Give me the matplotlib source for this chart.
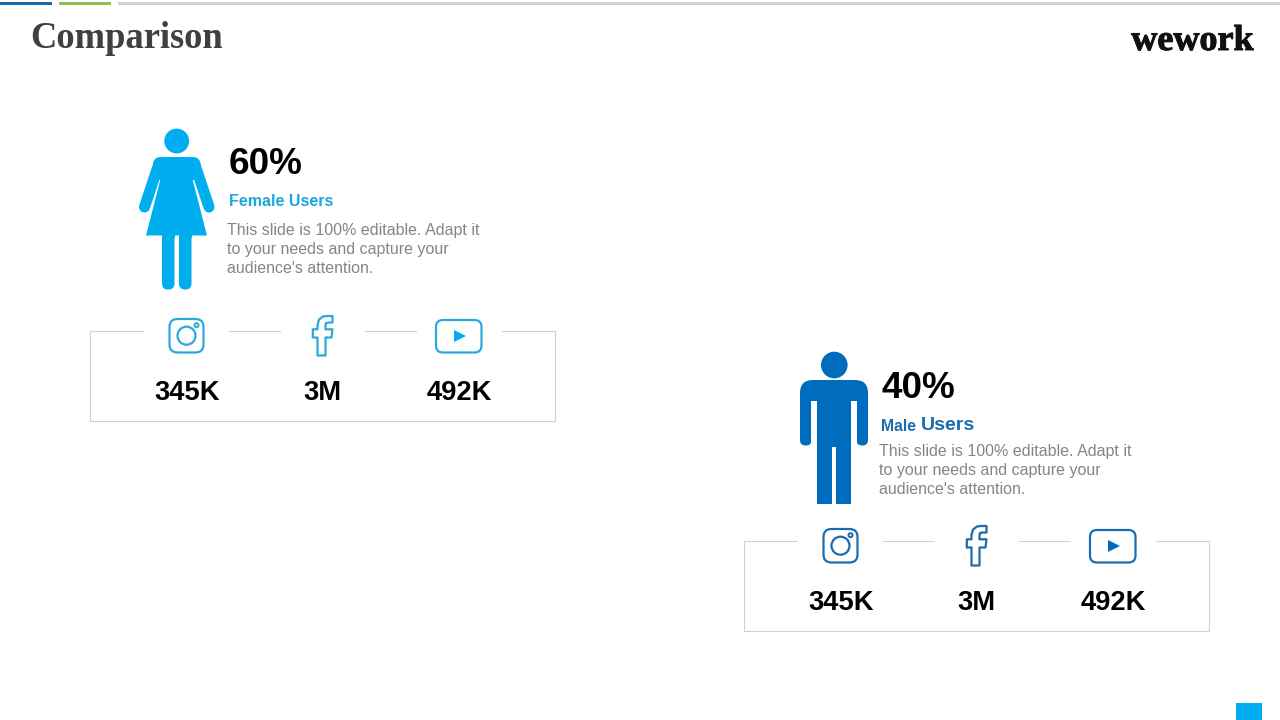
import matplotlib
matplotlib.use("Agg")
import matplotlib.pyplot as plt
import matplotlib.patheffects as pe
from matplotlib.patches import FancyBboxPatch, Rectangle, Circle, Polygon

TITLE = "Comparison"
LOGO = "wework"
PERCENTS = ["60%", "40%"]
FEMALE_LABEL = "Female Users"
MALE_LABEL = ["Male", "Users"]
DESC_LINES = ["This slide is 100% editable. Adapt it",
              "to your needs and capture your",
              "audience's attention."]
FEMALE_COUNTS = ["345K", "3M", "492K"]
MALE_COUNTS = ["345K", "3M", "492K"]

CYAN = "#00aeef"
CYAN_LINE = "#2aa9dc"
BLUE = "#006cbd"
BLUE_LINE = "#1a6cae"
GREY_TXT = "#858585"
BOX = "#d2d2d2"
SANS = "Liberation Sans"
SERIF = "Liberation Serif"

fig = plt.figure(figsize=(12.8, 7.2), dpi=100)
ax = fig.add_axes([0, 0, 1, 1])
ax.set_xlim(0, 1280)
ax.set_ylim(720, 0)
ax.axis("off")


def rrect(x0, y0, x1, y1, r, **kw):
    p = FancyBboxPatch((x0 + r, y0 + r), x1 - x0 - 2 * r, y1 - y0 - 2 * r,
                       boxstyle="round,pad=%f,rounding_size=%f" % (r, r), **kw)
    ax.add_patch(p)


def woman(c):
    ax.add_patch(Circle((176.7, 141), 12.4, color=c, lw=0))
    # shoulders
    rrect(153, 157, 200.5, 180, 8, fc=c, ec="none")
    # dress
    verts = [(161, 177), (192, 177), (207, 235.5), (146, 235.5)]
    ax.add_patch(Polygon(verts, closed=True, color=c, lw=0))
    # arms
    ax.plot([158.5, 144.5], [165, 207], color=c, lw=8, solid_capstyle="round")
    ax.plot([195, 209], [165, 207], color=c, lw=8, solid_capstyle="round")
    # legs
    rrect(162, 230, 174.5, 289.5, 6, fc=c, ec="none")
    rrect(179, 230, 191.5, 289.5, 6, fc=c, ec="none")
    ax.add_patch(Rectangle((162, 230), 12.5, 8, color=c, lw=0))
    ax.add_patch(Rectangle((179, 230), 12.5, 8, color=c, lw=0))


def man(c):
    ax.add_patch(Circle((834.3, 365), 13.3, color=c, lw=0))
    rrect(800, 380, 868, 425, 13, fc=c, ec="none")
    rrect(800, 395, 811.5, 445.5, 5.5, fc=c, ec="none")
    rrect(856.5, 395, 868, 445.5, 5.5, fc=c, ec="none")
    ax.add_patch(Rectangle((811, 401), 5.5, 50, color="white", lw=0))
    ax.add_patch(Rectangle((851, 401), 5.5, 50, color="white", lw=0))
    ax.add_patch(Rectangle((816.5, 395), 34.5, 108.8, color=c, lw=0))
    ax.add_patch(Rectangle((832, 447), 4, 57, color="white", lw=0))


def instagram(dx, dy, c):
    rrect(169.5 + dx, 319 + dy, 203.5 + dx, 352.5 + dy, 8, fc="none", ec=c, lw=1.6)
    ax.add_patch(Circle((186.5 + dx, 335.7 + dy), 9, fc="none", ec=c, lw=1.6))
    ax.add_patch(Circle((196.5 + dx, 325.2 + dy), 2, fc="none", ec=c, lw=1.4))


def facebook(dx, dy, c):
    verts = [(332.5, 316), (332.5, 322.5), (329, 322.5), (326, 323), (325.5, 326),
             (325.5, 329.3), (332.5, 329.3), (331.5, 337.5), (325.5, 337.5), (325.5, 355.5),
             (317.5, 355.5), (317.5, 337.5), (312.8, 337.5), (312.8, 329.3), (317.5, 329.3),
             (317.5, 325), (319, 319.5), (323, 316.5), (327, 316)]
    ax.add_patch(Polygon([(x + dx, y + dy) for x, y in verts], closed=True,
                         fc="none", ec=c, lw=1.6, joinstyle="round"))


def youtube(dx, dy, c, tri):
    rrect(436 + dx, 320 + dy, 481.5 + dx, 352.5 + dy, 7, fc="none", ec=c, lw=1.6)
    ax.add_patch(Polygon([(454 + dx, 330 + dy), (454 + dx, 342 + dy), (466 + dx, 336 + dy)],
                         closed=True, color=tri, lw=0))


def panel(dx, dy, counts, line_c, tri_c):
    segs = [(143, 90), (228.5, 280), (364.5, 416), (501.5, 555)]
    for x0, x1 in segs:
        ax.plot([x0 + dx, x1 + dx], [331 + dy, 331 + dy], color=BOX, lw=0.8)
    ax.plot([90 + dx, 90 + dx, 555 + dx, 555 + dx],
            [331 + dy, 421 + dy, 421 + dy, 331 + dy], color=BOX, lw=0.8)
    instagram(dx, dy, line_c)
    facebook(dx, dy, line_c)
    youtube(dx, dy, line_c, tri_c)
    for x, s in zip([187, 322.5, 459.5], counts):
        ax.text(x + dx, 399.5 + dy, s, ha="center", va="baseline", family=SANS,
                weight="bold", fontsize=19.7, color="black")


# header bars
ax.add_patch(Rectangle((0, 1.5), 52, 3.5, color="#1b6aa5", lw=0))
ax.add_patch(Rectangle((59, 1.5), 52, 3.5, color="#8cc152", lw=0))
ax.add_patch(Rectangle((118, 1.5), 1162, 3.5, color="#d4d4d4", lw=0))
ax.add_patch(Rectangle((1236, 703), 26, 17, color=CYAN, lw=0))

ax.text(30, 48, TITLE, ha="left", va="baseline", family=SERIF, weight="bold",
        fontsize=26.3, color="#404040")
ax.text(1192.5, 50, LOGO, ha="center", va="baseline", family=SERIF, weight="bold",
        fontsize=26, color="#111111",
        path_effects=[pe.withStroke(linewidth=0.7, foreground="#111111")])

woman(CYAN)
ax.text(229, 174, PERCENTS[0], ha="left", va="baseline", family=SANS, weight="bold",
        fontsize=26.6, color="black")
ax.text(229, 205.5, FEMALE_LABEL, ha="left", va="baseline", family=SANS, weight="bold",
        fontsize=11.5, color="#1aa7e0")
for yy, s in zip([235, 254, 273], DESC_LINES):
    ax.text(227, yy, s, ha="left", va="baseline", family=SANS, fontsize=11.5, color=GREY_TXT)
panel(0, 0, FEMALE_COUNTS, CYAN_LINE, CYAN)

man(BLUE)
ax.text(881, 398, PERCENTS[1], ha="left", va="baseline", family=SANS, weight="bold",
        fontsize=26.6, color="black")
ax.text(881, 431, MALE_LABEL[0], ha="left", va="baseline", family=SANS, weight="bold",
        fontsize=11.3, color=BLUE_LINE)
ax.text(921, 430.5, MALE_LABEL[1], ha="left", va="baseline", family=SANS, weight="bold",
        fontsize=14, color=BLUE_LINE)
for yy, s in zip([456, 475, 494], DESC_LINES):
    ax.text(879, yy, s, ha="left", va="baseline", family=SANS, fontsize=11.5, color=GREY_TXT)
panel(654, 210, MALE_COUNTS, BLUE_LINE, BLUE)

fig.savefig("out.png", dpi=100, facecolor="white")
